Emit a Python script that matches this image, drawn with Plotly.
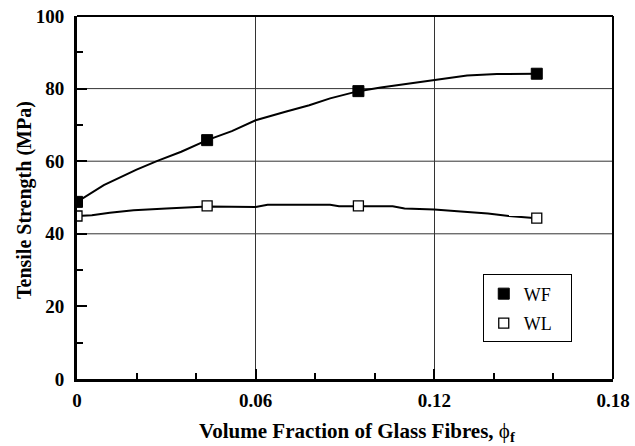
import plotly.graph_objects as go

# Measured tensile strength (MPa) vs glass-fibre volume fraction
phi_f = [0.0, 0.0437, 0.0945, 0.1544]
wf_strength = [48.8, 65.8, 79.3, 84.1]
wl_strength = [44.9, 47.7, 47.7, 44.3]

# Fitted trend curves
wf_fit_x = [0.0, 0.009, 0.020, 0.027, 0.035, 0.0437, 0.052, 0.060, 0.070,
            0.078, 0.085, 0.0945, 0.102, 0.110, 0.120, 0.131, 0.141, 0.1544]
wf_fit_y = [48.8, 53.4, 57.7, 60.1, 62.6, 65.8, 68.3, 71.3, 73.6,
            75.4, 77.3, 79.3, 80.3, 81.2, 82.3, 83.6, 84.0, 84.1]
wl_fit_x = [0.0, 0.005, 0.011, 0.019, 0.030, 0.0437, 0.060, 0.064, 0.085,
            0.088, 0.0945, 0.106, 0.110, 0.120, 0.130, 0.138, 0.145, 0.1544]
wl_fit_y = [44.9, 45.1, 45.8, 46.5, 47.0, 47.5, 47.4, 48.0, 48.0,
            47.6, 47.6, 47.6, 47.0, 46.7, 46.1, 45.6, 44.9, 44.3]

y_grid = [40, 60, 80]

series_names = ["WF", "WL"]
x_title = "<b>Volume Fraction of Glass Fibres, </b>\u03d5<sub><b>f</b></sub>"
y_title = "<b>Tensile Strength (MPa)</b>"

FONT = "Liberation Serif, Times New Roman, serif"

fig = go.Figure()

fig.add_trace(go.Scatter(x=wf_fit_x, y=wf_fit_y, mode="lines",
                         line=dict(color="black", width=2), showlegend=False,
                         hoverinfo="skip"))
fig.add_trace(go.Scatter(x=wl_fit_x, y=wl_fit_y, mode="lines",
                         line=dict(color="black", width=2), showlegend=False,
                         hoverinfo="skip"))

# Legend labels padded on the right so the legend box is a bit wider
fig.add_trace(go.Scatter(x=phi_f, y=wf_strength, mode="markers",
                         name=series_names[0] + "&nbsp;&nbsp;&nbsp;",
                         legendgroup="wf",
                         marker=dict(symbol="square", size=11, color="black",
                                     line=dict(color="black", width=1))))
fig.add_trace(go.Scatter(x=phi_f, y=wl_strength, mode="markers",
                         name=series_names[1] + "&nbsp;&nbsp;&nbsp;",
                         legendgroup="wl",
                         marker=dict(symbol="square", size=10, color="white",
                                     line=dict(color="black", width=1.3))))

# Horizontal grid lines (only at 40, 60, 80)
for yv in y_grid:
    fig.add_shape(type="line", xref="paper", yref="y", x0=0, x1=1, y0=yv, y1=yv,
                  line=dict(color="#333333", width=1), layer="below")

# Thinner top and right frame edges
fig.add_shape(type="line", xref="paper", yref="paper", x0=0, x1=1, y0=1, y1=1,
              line=dict(color="black", width=2))
fig.add_shape(type="line", xref="paper", yref="paper", x0=1, x1=1, y0=0, y1=1,
              line=dict(color="black", width=2))

# Axis titles
fig.add_annotation(text=x_title, xref="paper", yref="paper", x=0.523, y=-0.146,
                   xanchor="center", yanchor="middle", showarrow=False,
                   font=dict(family=FONT, size=21, color="black"))
fig.add_annotation(text=y_title, xref="paper", yref="paper", x=-0.099, y=0.493,
                   xanchor="center", yanchor="middle", showarrow=False,
                   textangle=-90,
                   font=dict(family=FONT, size=20, color="black"))

fig.update_layout(
    width=635, height=446,
    margin=dict(l=77, r=22, t=16, b=67, autoexpand=False),
    paper_bgcolor="white", plot_bgcolor="white",
    font=dict(family=FONT, color="black", size=18),
    legend=dict(x=0.757, y=0.288, xanchor="left", yanchor="top",
                bgcolor="white", bordercolor="black", borderwidth=1,
                font=dict(family=FONT, size=18, color="black"),
                traceorder="grouped", tracegroupgap=3,
                itemwidth=30),
)

fig.update_xaxes(
    range=[0, 0.18], tickvals=[0, 0.06, 0.12, 0.18],
    ticktext=["0", "0.06", "0.12", "0.18"],
    ticks="inside", ticklen=10, tickwidth=2, tickcolor="black",
    minor=dict(ticks="inside", ticklen=6, tickwidth=2, tickcolor="black",
               dtick=0.02, showgrid=False),
    showgrid=True, gridcolor="#333333", gridwidth=1,
    showline=True, linecolor="black", linewidth=3,
    zeroline=False, automargin=False,
    tickfont=dict(family=FONT, size=19, color="black", weight="bold"),
    ticklabelstandoff=2,
)

fig.update_yaxes(
    range=[0, 100], dtick=20,
    ticks="inside", ticklen=10, tickwidth=2, tickcolor="black",
    minor=dict(ticks="inside", ticklen=6, tickwidth=2, tickcolor="black",
               dtick=10, showgrid=False),
    showgrid=False,
    showline=True, linecolor="black", linewidth=3,
    zeroline=False, automargin=False,
    tickfont=dict(family=FONT, size=19, color="black", weight="bold"),
    ticklabelstandoff=6,
)

fig.write_html("out.html")
